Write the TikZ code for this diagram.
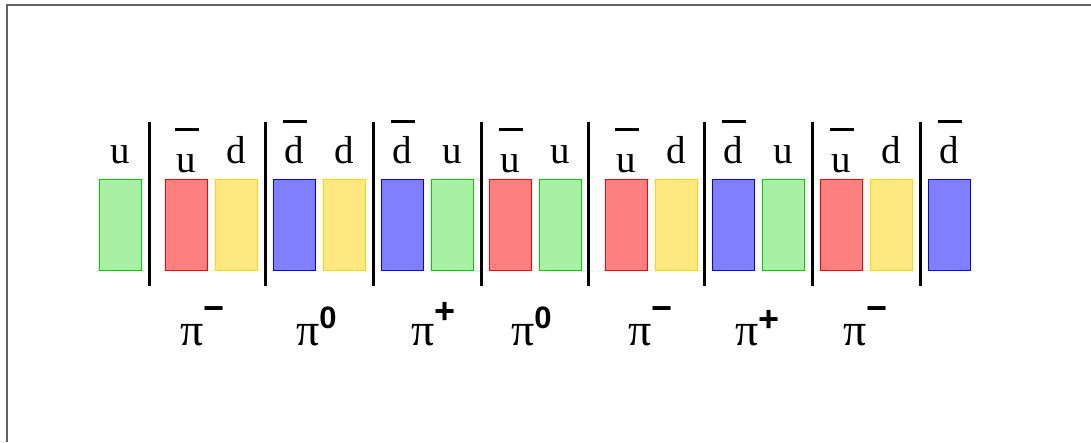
\documentclass[tikz,border=0pt]{standalone}
\usepackage{fontspec}
\setmainfont{Liberation Serif}
\setsansfont{Liberation Sans}
\definecolor{greenFill}{RGB}{168,240,164}
\definecolor{greenStroke}{RGB}{0,204,0}
\definecolor{redFill}{RGB}{255,128,128}
\definecolor{redStroke}{RGB}{255,0,0}
\definecolor{yellowFill}{RGB}{255,232,128}
\definecolor{yellowStroke}{RGB}{255,215,0}
\definecolor{blueFill}{RGB}{128,128,255}
\definecolor{blueStroke}{RGB}{0,0,255}
\colorlet{frameInk}{black!62}
\tikzset{
  quark/.style={
    rectangle,
    line width=1.2pt,
    minimum width=42pt,
    minimum height=91pt,
    inner sep=0pt,
    anchor=north west
  },
  greenq/.style={quark, draw=greenStroke, fill=greenFill},
  redq/.style={quark, draw=redStroke, fill=redFill},
  yellowq/.style={quark, draw=yellowStroke, fill=yellowFill},
  blueq/.style={quark, draw=blueStroke, fill=blueFill},
  flavour/.style={anchor=base, inner sep=0pt, font=\fontsize{39}{39}\selectfont},
  overbar/.style={draw=black, line width=3pt},
  divider/.style={draw=black, line width=3pt},
  pionlabel/.style={anchor=base west, inner sep=0pt},
  frame/.style={draw=frameInk, line width=2pt}
}
% pion symbol: raise, size of the charge, charge
\newcommand{\Pion}[3]{%
  {\fontsize{46}{46}\selectfont π}\kern0pt%
  \raisebox{#1}{\sffamily\bfseries\fontsize{#2}{#2}\selectfont #3}%
}

\begin{document}
\begin{tikzpicture}[x=1pt,y=-1pt]
  \useasboundingbox (0,0) rectangle (1091,442);
  \draw[frame] (7,442) -- (7,5) -- (1091,5);

  % quark boxes
  \node[greenq] (q1) at (99,179) {};
  \node[redq] (q2) at (165,179) {};
  \node[yellowq] (q3) at (215,179) {};
  \node[blueq] (q4) at (273,179) {};
  \node[yellowq] (q5) at (323,179) {};
  \node[blueq] (q6) at (381,179) {};
  \node[greenq] (q7) at (431,179) {};
  \node[redq] (q8) at (489,179) {};
  \node[greenq] (q9) at (539,179) {};
  \node[redq] (q10) at (605,179) {};
  \node[yellowq] (q11) at (655,179) {};
  \node[blueq] (q12) at (712,179) {};
  \node[greenq] (q13) at (762,179) {};
  \node[redq] (q14) at (820,179) {};
  \node[yellowq] (q15) at (870,179) {};
  \node[blueq] (q16) at (928,179) {};

  % flavour letters
  \node[flavour] (l1) at ([yshift=16pt]q1.north) {u};
  \node[flavour] (l2) at ([yshift=7pt]q2.north) {u};
  \node[flavour] (l3) at ([yshift=16pt]q3.north) {d};
  \node[flavour] (l4) at ([yshift=16pt]q4.north) {d};
  \node[flavour] (l5) at ([yshift=16pt]q5.north) {d};
  \node[flavour] (l6) at ([yshift=16pt]q6.north) {d};
  \node[flavour] (l7) at ([yshift=16pt]q7.north) {u};
  \node[flavour] (l8) at ([yshift=7pt]q8.north) {u};
  \node[flavour] (l9) at ([yshift=16pt]q9.north) {u};
  \node[flavour] (l10) at ([yshift=7pt]q10.north) {u};
  \node[flavour] (l11) at ([yshift=16pt]q11.north) {d};
  \node[flavour] (l12) at ([yshift=16pt]q12.north) {d};
  \node[flavour] (l13) at ([yshift=16pt]q13.north) {u};
  \node[flavour] (l14) at ([yshift=7pt]q14.north) {u};
  \node[flavour] (l15) at ([yshift=16pt]q15.north) {d};
  \node[flavour] (l16) at ([yshift=16pt]q16.north) {d};

  % antiquark bars
  \draw[overbar] ([shift={(-12pt,50pt)}]q2.north) -- ++(24,0);
  \draw[overbar] ([shift={(-12pt,58pt)}]q4.north) -- ++(24,0);
  \draw[overbar] ([shift={(-12pt,58pt)}]q6.north) -- ++(24,0);
  \draw[overbar] ([shift={(-12pt,50pt)}]q8.north) -- ++(24,0);
  \draw[overbar] ([shift={(-12pt,50pt)}]q10.north) -- ++(24,0);
  \draw[overbar] ([shift={(-12pt,58pt)}]q12.north) -- ++(24,0);
  \draw[overbar] ([shift={(-12pt,50pt)}]q14.north) -- ++(24,0);
  \draw[overbar] ([shift={(-12pt,58pt)}]q16.north) -- ++(24,0);

  % dividers
  \draw[divider] (149,122) -- (149,286);
  \draw[divider] (265,122) -- (265,286);
  \draw[divider] (373,122) -- (373,286);
  \draw[divider] (481,122) -- (481,286);
  \draw[divider] (588,122) -- (588,286);
  \draw[divider] (704,122) -- (704,286);
  \draw[divider] (812,122) -- (812,286);
  \draw[divider] (920,122) -- (920,286);

  % pions
  \node[pionlabel] (p1) at (180,345) {\Pion{25pt}{36}{−}};
  \node[pionlabel] (p2) at (296,345) {\Pion{17pt}{31}{0}};
  \node[pionlabel] (p3) at (411,345) {\Pion{22pt}{36}{+}};
  \node[pionlabel] (p4) at (511,345) {\Pion{17pt}{31}{0}};
  \node[pionlabel] (p5) at (628,345) {\Pion{25pt}{36}{−}};
  \node[pionlabel] (p6) at (735,345) {\Pion{14pt}{36}{+}};
  \node[pionlabel] (p7) at (843,345) {\Pion{25pt}{36}{−}};
\end{tikzpicture}
\end{document}
